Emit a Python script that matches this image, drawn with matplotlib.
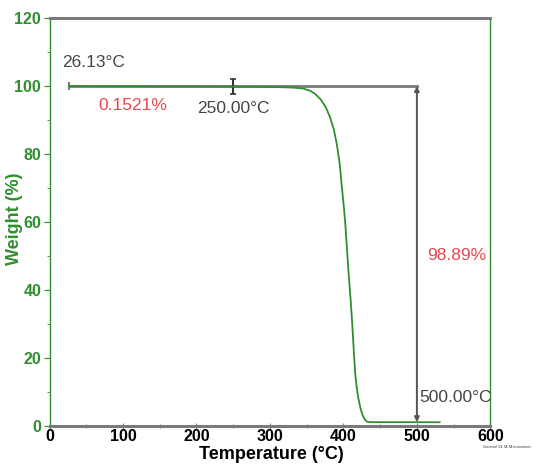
import matplotlib
matplotlib.use("Agg")
import matplotlib.pyplot as plt
from matplotlib.ticker import MultipleLocator

temps = [26.13, 100, 200, 250, 300, 320, 335, 345, 355, 362, 369, 376, 382, 387, 391, 395,
         398, 401, 403, 405, 407, 410, 412, 414, 416, 418, 420, 423, 426, 429, 432, 436, 440,
         460, 500, 531]
weights = [100, 99.95, 99.88, 99.85, 99.75, 99.65, 99.5, 99.3, 98.6, 97.6, 96.1, 93.8, 90.7,
           87.2, 82.9, 77.0, 70.0, 63.5, 58.0, 51.5, 45.0, 36.5, 30.0, 22.5, 15.5, 11.5, 8.5,
           5.4, 3.2, 1.9, 1.25, 1.15, 1.12, 1.11, 1.11, 1.08]

start_T = 26.13
mark_T = 250.0
end_T = 500.0
loss1 = "0.1521%"
loss2 = "98.89%"
residue = 1.11

GREEN = "#2f8f2f"
GRAY = "#7a7a7a"
TXT = "#444444"
RED = "#e5484d"

plt.rcParams['font.family'] = ['Liberation Sans', 'DejaVu Sans']
fig = plt.figure(figsize=(5.33, 4.65), dpi=100)
ax = fig.add_axes([0.093, 0.084, 0.827, 0.877])
ax.set_xlim(0, 600)
ax.set_ylim(0, 120)

# annotation lines
ax.plot([start_T, end_T], [100, 100], color=GRAY, lw=2, zorder=2)
ax.plot([start_T], [100], marker='|', ms=6, mew=1.5, color=GRAY, zorder=3)
ax.errorbar([mark_T], [100], yerr=[2.2], fmt='none', ecolor='#333333', capsize=2.5,
            elinewidth=1.5, capthick=1.2, zorder=4)
ax.annotate('', xy=(end_T, 100), xytext=(end_T, residue),
            arrowprops=dict(arrowstyle='<|-|>', mutation_scale=7, color='#555555', lw=1.4,
                            shrinkA=0, shrinkB=0), zorder=3)

ax.plot(temps, weights, color=GREEN, lw=1.3, zorder=5)

fs = 12.5
ax.text(17, 107, "26.13°C", color=TXT, fontsize=fs, va='center', ha='left')
ax.text(67, 94.4, loss1, color=RED, fontsize=fs, va='center', ha='left')
ax.text(201, 93.5, "250.00°C", color=TXT, fontsize=fs, va='center', ha='left')
ax.text(514, 50.3, loss2, color=RED, fontsize=fs, va='center', ha='left')
ax.text(503, 8.3, "500.00°C", color=TXT, fontsize=fs, va='center', ha='left')

# spines
for s in ['left', 'right']:
    ax.spines[s].set_color(GREEN)
    ax.spines[s].set_linewidth(1.0)
for s in ['top', 'bottom']:
    ax.spines[s].set_color(GRAY)
    ax.spines[s].set_linewidth(2.2)

ax.xaxis.set_major_locator(MultipleLocator(100))
ax.xaxis.set_minor_locator(MultipleLocator(50))
ax.yaxis.set_major_locator(MultipleLocator(20))
ax.yaxis.set_minor_locator(MultipleLocator(10))
ax.tick_params(axis='y', which='major', direction='out', length=4, color=GREEN,
               labelcolor=GREEN, labelsize=11.5, pad=2)
ax.tick_params(axis='y', which='minor', direction='out', length=2, color=GREEN)
ax.tick_params(axis='x', which='major', direction='inout', length=5, color=GRAY,
               labelcolor='black', labelsize=11.5, pad=0)
ax.tick_params(axis='x', which='minor', direction='inout', length=3, color=GRAY)
for lab in ax.get_xticklabels() + ax.get_yticklabels():
    lab.set_fontweight('bold')

fig.text(0.027, 0.53, "Weight (%)", rotation=90, color=GREEN, fontsize=13,
         fontweight='bold', ha='center', va='center')
fig.text(0.51, 0.022, "Temperature (°C)", color='black', fontsize=13,
         fontweight='bold', ha='center', va='center')
fig.text(0.997, 0.038, "Universal V4.7A TA Instruments", color='#333333', fontsize=2.4,
         ha='right', va='center')

fig.savefig("out.png", dpi=100)
